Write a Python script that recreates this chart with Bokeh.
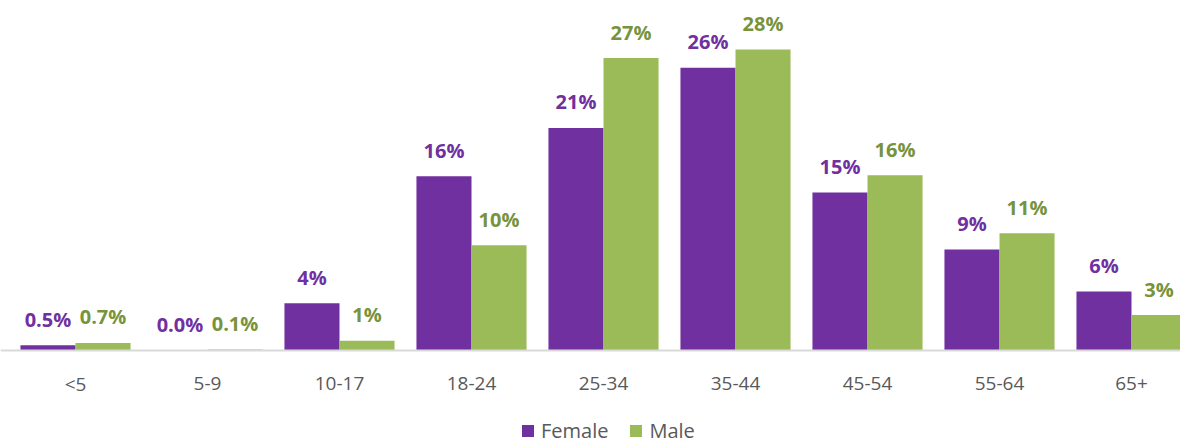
import numpy as np
from bokeh.plotting import figure
from bokeh.models import ColumnDataSource, Range1d, Legend, LegendItem, Span
from bokeh.core.properties import value
from bokeh.embed import file_html
from bokeh.resources import INLINE

categories = ["<5", "5-9", "10-17", "18-24", "25-34", "35-44", "45-54", "55-64", "65+"]
female = [0.5, 0.0, 4.4, 16.2, 20.7, 26.3, 14.7, 9.4, 5.5]
male = [0.7, 0.1, 0.9, 9.8, 27.2, 28.0, 16.3, 10.9, 3.3]
female_labels = ["0.5%", "0.0%", "4%", "16%", "21%", "26%", "15%", "9%", "6%"]
male_labels = ["0.7%", "0.1%", "1%", "10%", "27%", "28%", "16%", "11%", "3%"]

FEMALE_C = "#7030A0"
MALE_C = "#9BBB59"
MALE_TXT = "#77933C"
GRAY = "#595959"
FONT = "Open Sans"

xs = np.arange(len(categories))
bw = 0.417
src = ColumnDataSource(dict(
    xf=xs - bw / 2, xm=xs + bw / 2,
    female=female, male=male,
    fl=female_labels, ml=male_labels,
))
cat_src = ColumnDataSource(dict(x=xs, y=np.zeros(len(xs)), cat=categories))

W, H = 1180, 444
PX_PER_X = 132.0
PX_PER_Y = 10.75
BASE = 350  # baseline position from top, px
x0 = -75 / PX_PER_X
p = figure(frame_width=W, frame_height=H, output_backend="svg",
           toolbar_location=None,
           x_range=Range1d(x0, x0 + W / PX_PER_X),
           y_range=Range1d(-(H - BASE) / PX_PER_Y, BASE / PX_PER_Y),
           min_border_left=0, min_border_right=0, min_border_top=0,
           min_border_bottom=0)
p.outline_line_color = None
p.xgrid.visible = False
p.ygrid.visible = False
p.xaxis.visible = False
p.yaxis.visible = False

p.add_layout(Span(location=0, dimension="width", line_color="#D9D9D9",
                  line_width=2))

rf = p.vbar(x="xf", top="female", width=bw, source=src, fill_color=FEMALE_C,
            line_color=None)
rm = p.vbar(x="xm", top="male", width=bw, source=src, fill_color=MALE_C,
            line_color=None)

p.text(x="xf", y="female", text="fl", source=src, y_offset=-26,
       text_align="center", text_baseline="middle", text_color=FEMALE_C,
       text_font=value(FONT), text_font_style="bold", text_font_size="20px")
p.text(x="xm", y="male", text="ml", source=src, y_offset=-26,
       text_align="center", text_baseline="middle", text_color=MALE_TXT,
       text_font=value(FONT), text_font_style="bold", text_font_size="20px")

# category (x axis) labels
p.text(x="x", y="y", text="cat", source=cat_src, y_offset=33,
       text_align="center", text_baseline="middle", text_color=GRAY,
       text_font=value(FONT), text_font_size="19px")

legend = Legend(items=[LegendItem(label="Female", renderers=[rf]),
                       LegendItem(label="Male", renderers=[rm])],
                orientation="horizontal", location=(520, 0),
                glyph_width=15, glyph_height=15, label_standoff=6,
                spacing=20, padding=0, margin=0, border_line_color=None,
                label_text_font=FONT, label_text_font_size="20px",
                label_text_color=GRAY, background_fill_alpha=0)
p.add_layout(legend)

open("out.html", "w").write(file_html(p, INLINE))
